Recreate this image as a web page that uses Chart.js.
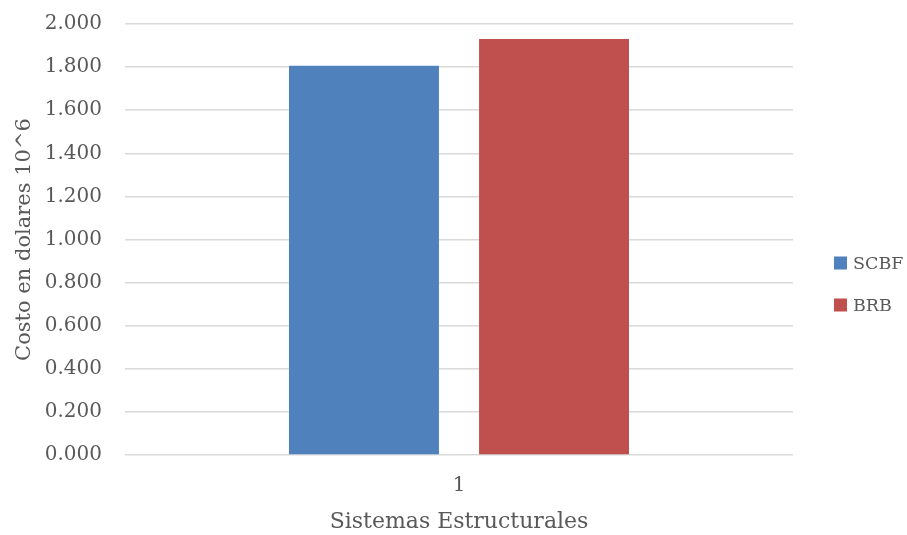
<!DOCTYPE html>
<html>
<head>
<meta charset="utf-8">
<script src="https://cdn.jsdelivr.net/npm/chart.js@4.4.1/dist/chart.umd.min.js"></script>
<style>
  html, body { margin: 0; padding: 0; background: #fff; }
  #wrap { width: 907px; height: 535px; }
</style>
</head>
<body>
<div id="wrap"><canvas id="costChart" width="907" height="535"></canvas></div>
<script>
const categories = ['1'];
const seriesNames = ['SCBF', 'BRB'];
const scbfValues = [1.806];
const brbValues = [1.930];
const seriesColors = ['#4f81bd', '#c0504d'];
const yTicks = [0, 0.2, 0.4, 0.6, 0.8, 1.0, 1.2, 1.4, 1.6, 1.8, 2.0];

const FONT = "'DejaVu Serif', 'Liberation Serif', serif";
const TEXT = '#595959';

// legend drawn by hand so it sits where the original one does
const sideLegend = {
    id: 'sideLegend',
    afterDraw(chart) {
        const ctx = chart.ctx;
        ctx.save();
        ctx.font = '17.5px ' + FONT;
        ctx.textBaseline = 'middle';
        ctx.textAlign = 'left';
        chart.data.datasets.forEach((ds, i) => {
            const y = 263 + i * 42;
            ctx.fillStyle = ds.backgroundColor;
            ctx.fillRect(834, y - 6.5, 13, 13);
            ctx.fillStyle = TEXT;
            ctx.fillText(ds.label, 853, y + 1);
        });
        ctx.restore();
    }
};

new Chart(document.getElementById('costChart').getContext('2d'), {
    type: 'bar',
    data: {
        labels: categories,
        datasets: [
            { label: seriesNames[0], data: scbfValues, backgroundColor: seriesColors[0] },
            { label: seriesNames[1], data: brbValues, backgroundColor: seriesColors[1] }
        ]
    },
    options: {
        responsive: false,
        animation: false,
        categoryPercentage: 0.569,
        barPercentage: 0.789,
        layout: { padding: { top: 24, right: 114, bottom: 0, left: 0 } },
        plugins: {
            legend: { display: false },
            tooltip: { enabled: false }
        },
        scales: {
            x: {
                grid: { display: false },
                border: { display: false },
                ticks: { color: TEXT, font: { family: FONT, size: 20 }, padding: 11 },
                title: {
                    display: true,
                    text: 'Sistemas Estructurales',
                    color: TEXT,
                    font: { family: FONT, size: 22 },
                    padding: { top: 0, bottom: 0 }
                },
                afterFit(scale) {
                    scale.height = 80;
                    scale.paddingLeft = 0;
                    scale.paddingRight = 0;
                }
            },
            y: {
                min: 0,
                max: 2,
                afterBuildTicks(scale) { scale.ticks = yTicks.map(v => ({ value: v })); },
                grid: { color: '#d9d9d9', lineWidth: 1.5, drawTicks: false },
                border: { display: false },
                ticks: {
                    color: TEXT,
                    font: { family: FONT, size: 20 },
                    padding: 23,
                    callback: v => Number(v).toFixed(3)
                },
                title: {
                    display: true,
                    text: 'Costo en dolares 10^6',
                    color: TEXT,
                    font: { family: FONT, size: 21 },
                    padding: { top: 12, bottom: 0 }
                },
                afterFit(scale) {
                    scale.width = 125;
                    scale.paddingTop = 0;
                    scale.paddingBottom = 0;
                }
            }
        }
    },
    plugins: [sideLegend]
});
</script>
</body>
</html>
